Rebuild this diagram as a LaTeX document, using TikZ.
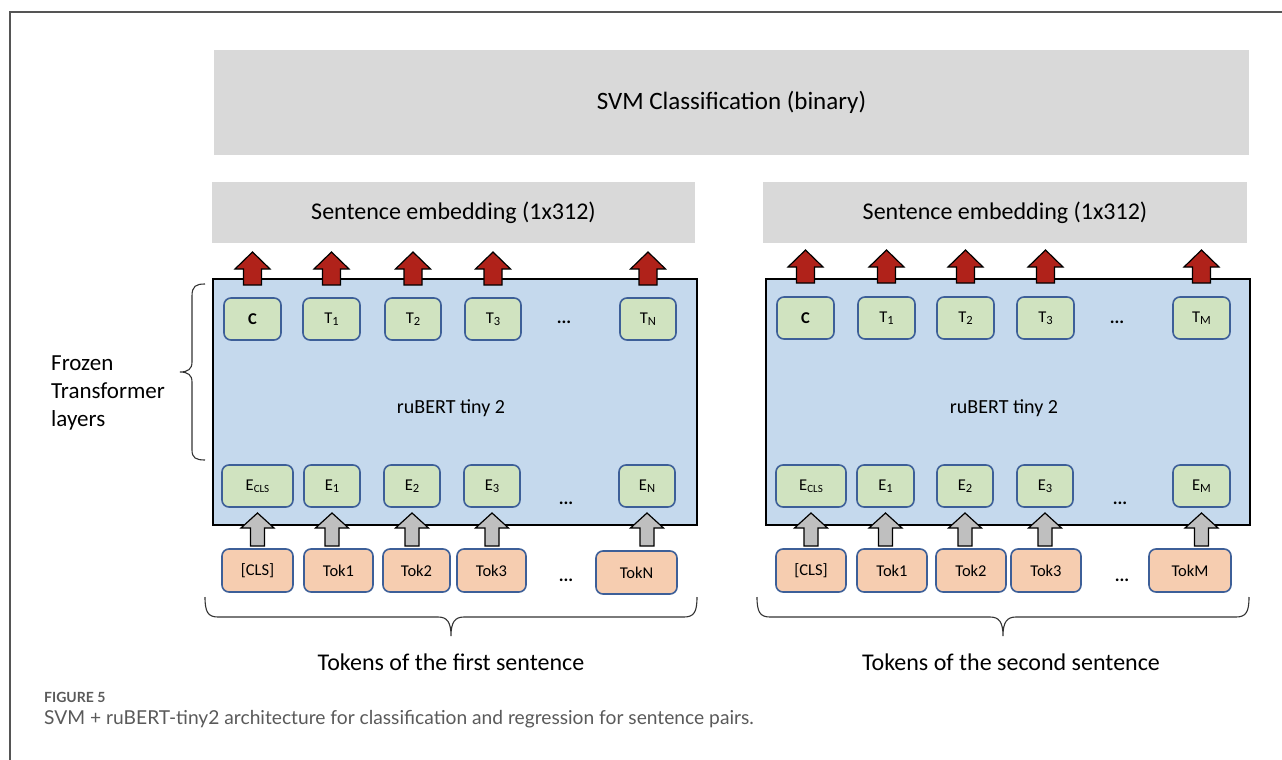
\documentclass[tikz,border=0pt]{standalone}
\usepackage{fontspec}
\setmainfont{Carlito}
\newfontfamily\capfont{Lato}
\newcommand\lowsub[1]{\raisebox{-2.5pt}{\fontsize{12.5}{13}\selectfont #1}}
\definecolor{greyc}{HTML}{D9D9D9}
\definecolor{bluec}{HTML}{C5D9ED}
\definecolor{greenc}{HTML}{D0E3C0}
\definecolor{orangec}{HTML}{F6CDB0}
\definecolor{bordc}{HTML}{3D5F98}
\definecolor{redc}{HTML}{B0221A}
\definecolor{garrc}{HTML}{BFBFBF}
\definecolor{framec}{HTML}{555555}
\definecolor{captc}{HTML}{5A5A5A}
\begin{document}
\begin{tikzpicture}[x=1pt,y=-1pt,
  greybox/.style={fill=greyc, draw=none, inner sep=0pt},
  blk/.style={fill=bluec, draw=black, line width=1.8pt, inner sep=0pt},
  gbox/.style={fill=greenc, draw=bordc, line width=1.6pt, rounded corners=7pt, inner sep=0pt, minimum height=42pt, font=\fontsize{16.5}{19}\selectfont},
  obox/.style={fill=orangec, draw=bordc, line width=1.6pt, rounded corners=7pt, inner sep=0pt, minimum height=43pt, font=\fontsize{16.5}{19}\selectfont},
  dots/.style={font=\fontsize{18}{20}\selectfont\bfseries, inner sep=0pt},
  bigtxt/.style={font=\fontsize{24}{28}\selectfont, inner sep=0pt},
  brc/.style={draw=black!80, line width=1.1pt},
  redup/.pic={\draw[fill=redc, draw=black, line width=1.2pt, line join=miter] (-9,0) -- (-9,-16) -- (-17.5,-16) -- (0,-33) -- (17.5,-16) -- (9,-16) -- (9,0) -- cycle;},
  greyup/.pic={\draw[fill=garrc, draw=black, line width=1.2pt, line join=miter] (-7,0) -- (-7,-18) -- (-16.5,-18) -- (0,-33) -- (16.5,-18) -- (7,-18) -- (7,0) -- cycle;}
]
\useasboundingbox (0,0) rectangle (1282,760);
\fill[white] (0,0) rectangle (1282,760);
\draw[framec, line width=1.5pt] (10,760) -- (10,12) -- (1282,12);

% top classifier
\node[greybox, minimum width=1035pt, minimum height=105pt, font=\fontsize{25}{30}\selectfont] (svm) at (731.5,102.5) {SVM Classification (binary)};

% sentence embeddings
\node[greybox, minimum width=483pt, minimum height=61pt, font=\fontsize{24}{28}\selectfont] (semL) at (453.5,212.5) {Sentence embedding (1x312)};
\node[greybox, minimum width=484pt, minimum height=61pt, font=\fontsize{24}{28}\selectfont] (semR) at (1005,212.5) {Sentence embedding (1x312)};

% transformer blocks
\node[blk, minimum width=484pt, minimum height=246pt] (bertL) at (455,402) {};
\node[blk, minimum width=484pt, minimum height=246pt] (bertR) at (1008,402) {};
\node[font=\fontsize{20}{24}\selectfont, inner sep=0pt] (lblL) at (451,408) {ruBERT tiny 2};
\node[font=\fontsize{20}{24}\selectfont, inner sep=0pt] (lblR) at (1004,408) {ruBERT tiny 2};

% left: output nodes
\node[gbox, minimum width=57pt] (lT0) at (252.5,319) {\textbf{C}};
\node[gbox, minimum width=57pt] (lT1) at (331.5,319) {T\lowsub{1}};
\node[gbox, minimum width=56pt] (lT2) at (413,319) {T\lowsub{2}};
\node[gbox, minimum width=56pt] (lT3) at (493,319) {T\lowsub{3}};
\node[gbox, minimum width=56pt] (lTN) at (648,319) {T\lowsub{N}};
\node[dots] (ldt) at (564,322) {...};
% left: embedding nodes
\node[gbox, minimum width=71pt] (lE0) at (257.5,486) {E\lowsub{\fontsize{11}{12}\selectfont CLS}};
\node[gbox, minimum width=56pt] (lE1) at (332,486) {E\lowsub{1}};
\node[gbox, minimum width=56pt] (lE2) at (412,486) {E\lowsub{2}};
\node[gbox, minimum width=56pt] (lE3) at (492,486) {E\lowsub{3}};
\node[gbox, minimum width=56pt] (lEN) at (647,486) {E\lowsub{N}};
\node[dots] (lde) at (566,503) {...};
% left: tokens
\node[obox, minimum width=71pt] (lK0) at (257.5,570.5) {[CLS]};
\node[obox, minimum width=69pt] (lK1) at (338.5,570.5) {Tok1};
\node[obox, minimum width=67pt] (lK2) at (416.5,570.5) {Tok2};
\node[obox, minimum width=69pt] (lK3) at (491.5,570.5) {Tok3};
\node[obox, minimum width=81pt] (lKN) at (636.5,572.5) {TokN};
\node[dots] (ldk) at (566,580) {...};

% right: output nodes
\node[gbox, minimum width=57pt] (rT0) at (805.5,318) {\textbf{C}};
\node[gbox, minimum width=57pt] (rT1) at (886.5,318) {T\lowsub{1}};
\node[gbox, minimum width=57pt] (rT2) at (965.5,318) {T\lowsub{2}};
\node[gbox, minimum width=57pt] (rT3) at (1045.5,318) {T\lowsub{3}};
\node[gbox, minimum width=57pt] (rTM) at (1201.5,318) {T\lowsub{M}};
\node[dots] (rdt) at (1117,322) {...};
% right: embedding nodes
\node[gbox, minimum width=70pt] (rE0) at (811,486) {E\lowsub{\fontsize{11}{12}\selectfont CLS}};
\node[gbox, minimum width=57pt] (rE1) at (885.5,486) {E\lowsub{1}};
\node[gbox, minimum width=56pt] (rE2) at (965,486) {E\lowsub{2}};
\node[gbox, minimum width=56pt] (rE3) at (1045,486) {E\lowsub{3}};
\node[gbox, minimum width=57pt] (rEM) at (1201.5,486) {E\lowsub{M}};
\node[dots] (rde) at (1120,503) {...};
% right: tokens
\node[obox, minimum width=70pt] (rK0) at (811,570.5) {[CLS]};
\node[obox, minimum width=70pt] (rK1) at (892,570.5) {Tok1};
\node[obox, minimum width=70pt] (rK2) at (971,570.5) {Tok2};
\node[obox, minimum width=70pt] (rK3) at (1046,570.5) {Tok3};
\node[obox, minimum width=82pt] (rKM) at (1190,570.5) {TokM};
\node[dots] (rdk) at (1122,580) {...};

% red output arrows
\foreach \n in {lT0,lT1,lT2,lT3,lTN} { \pic at (\n |- 0,285) {redup}; }
\foreach \n in {rT0,rT1,rT2,rT3,rTM} { \pic at (\n |- 0,283) {redup}; }
% grey input arrows
\foreach \n in {lE0,lE1,lE2,lE3,lEN,rE0,rE1,rE2,rE3,rEM} { \pic at (\n |- 0,546) {greyup}; }

% frozen layers brace and label
\draw[brc] (205,284) .. controls (196,284) and (192,286) .. (192,296) -- (192,362)
  .. controls (192,369) and (188,372) .. (180,372)
  .. controls (188,372) and (192,375) .. (192,382) -- (192,450)
  .. controls (192,458) and (196,460) .. (205,460);
\node[font=\fontsize{23}{28}\selectfont, align=left, anchor=west, inner sep=0pt] (frz) at (51,393) {Frozen\\Transformer\\layers};

% bottom braces
\draw[brc] (205,597) .. controls (205,612) and (208,617) .. (218,617) -- (438,617)
  .. controls (447,617) and (451,622) .. (451,636)
  .. controls (451,622) and (455,617) .. (464,617) -- (684,617)
  .. controls (694,617) and (697,612) .. (697,597);
\draw[brc] (757,597) .. controls (757,612) and (760,617) .. (770,617) -- (990,617)
  .. controls (999,617) and (1003,622) .. (1003,636)
  .. controls (1003,622) and (1007,617) .. (1016,617) -- (1236,617)
  .. controls (1246,617) and (1249,612) .. (1249,597);
\node[bigtxt] (tokL) at (451,662) {Tokens of the first sentence};
\node[bigtxt] (tokR) at (1011,662) {Tokens of the second sentence};

% caption
\node[anchor=west, inner sep=0pt, text=captc, font=\capfont\bfseries\fontsize{14}{16}\selectfont] (figno) at (44,697) {FIGURE 5};
\node[anchor=west, inner sep=0pt, text=captc, font=\capfont\fontsize{19.2}{22}\selectfont] (cap) at (44,719) {SVM + ruBERT-tiny2 architecture for classification and regression for sentence pairs.};
\end{tikzpicture}
\end{document}
